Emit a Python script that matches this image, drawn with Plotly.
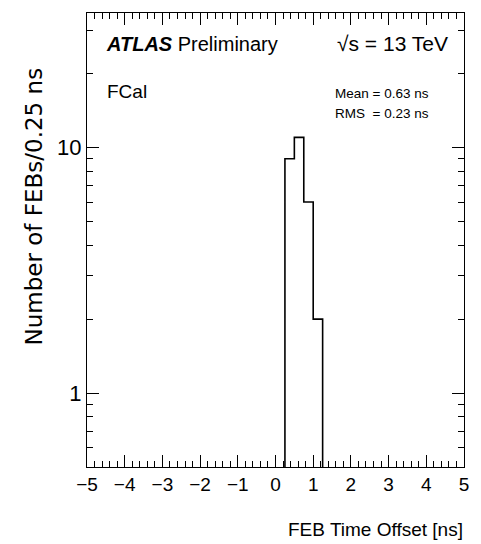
import numpy as np
import plotly.graph_objects as go

# FEB time offset histogram (FCal), 0.25 ns bins
bin_edges = [0.25, 0.50, 0.75, 1.00, 1.25]
counts = [9, 11, 6, 2]

x_range = [-5, 5]
y_range = [np.log10(0.5), 1.548]
y_major = [1, 10]
y_minor = [0.6, 0.7, 0.8, 0.9, 2, 3, 4, 5, 6, 7, 8, 9, 20, 30]

SANS = "Liberation Sans, Arial, sans-serif"
floor = 1e-3  # below the visible range, clipped by the axes

# step outline: rise at the first edge, follow the bin tops, drop at the last edge
xs = [bin_edges[0]] + bin_edges + [bin_edges[-1]]
ys = [floor] + counts + [counts[-1], floor]

fig = go.Figure()
fig.add_trace(go.Scatter(
    x=xs, y=ys, mode="lines", line_shape="hv",
    line=dict(color="black", width=1.6), showlegend=False, hoverinfo="skip",
))

W, H = 481, 544
L, R, T, B = 87, 14, 13, 77
pw, ph = W - L - R, H - T - B


def px(x):
    return (x - L) / pw


def py(y):
    return (H - B - y) / ph


fig.update_layout(
    width=W, height=H,
    margin=dict(l=L, r=R, t=T, b=B),
    paper_bgcolor="white", plot_bgcolor="white",
    font=dict(family=SANS, color="black"),
)

fig.update_xaxes(
    range=x_range, tickmode="linear", tick0=-5, dtick=1,
    ticks="inside", ticklen=12, tickwidth=1, tickcolor="black",
    minor=dict(ticks="inside", ticklen=6, tickwidth=1, tickcolor="black", dtick=0.2, tick0=-5),
    showline=True, linecolor="black", linewidth=1, mirror="ticks",
    showgrid=False, zeroline=False,
    tickfont=dict(family=SANS, size=19),
)
fig.update_yaxes(
    type="log", range=y_range,
    tickmode="array", tickvals=y_major, ticktext=[str(v) for v in y_major],
    ticks="inside", ticklen=12, tickwidth=1, tickcolor="black",
    minor=dict(ticks="inside", ticklen=6, tickwidth=1, tickcolor="black",
               tickmode="array", tickvals=y_minor),
    showline=True, linecolor="black", linewidth=1, mirror="ticks",
    showgrid=False, zeroline=False,
    tickfont=dict(family=SANS, size=22),
)

ann = [
    dict(text="<b><i>ATLAS</i></b> Preliminary", x=px(104), y=py(44), xanchor="left", yanchor="middle",
         font=dict(size=20)),
    dict(text="√s = 13 TeV", x=px(337), y=py(44), xanchor="left", yanchor="middle", font=dict(size=21)),
    dict(text="FCal", x=px(105), y=py(91), xanchor="left", yanchor="middle", font=dict(size=19)),
    dict(text="Mean = 0.63 ns", x=px(335), y=py(93), xanchor="left", yanchor="middle", font=dict(size=13.5)),
    dict(text="RMS\u00a0\u00a0= 0.23 ns", x=px(335), y=py(114), xanchor="left", yanchor="middle",
         font=dict(size=13.5)),
    dict(text="FEB Time Offset [ns]", x=px(468), y=py(529), xanchor="right", yanchor="middle",
         font=dict(size=19)),
    dict(text="Number of FEBs/0.25 ns", x=px(34), y=py(206), xanchor="center", yanchor="middle",
         textangle=-90, font=dict(family="DejaVu Sans", size=23)),
]
for a in ann:
    a.update(xref="paper", yref="paper", showarrow=False)
fig.update_layout(annotations=ann)

fig.write_html("out.html")
